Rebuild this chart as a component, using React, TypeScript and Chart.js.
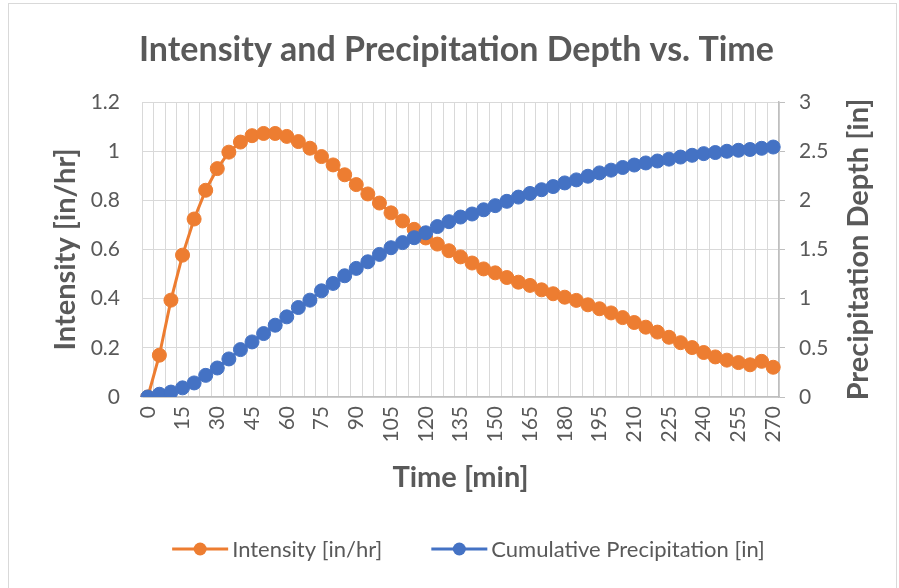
import React, { useEffect, useRef } from "react";
import { Chart, registerables } from "chart.js";

Chart.register(...registerables);

// ---------- data ----------
const times = [
  0, 5, 10, 15, 20, 25, 30, 35, 40, 45, 50, 55, 60, 65, 70, 75, 80, 85, 90, 95,
  100, 105, 110, 115, 120, 125, 130, 135, 140, 145, 150, 155, 160, 165, 170, 175,
  180, 185, 190, 195, 200, 205, 210, 215, 220, 225, 230, 235, 240, 245, 250, 255,
  260, 265, 270,
];

const intensity = [
  0, 0.17, 0.394, 0.577, 0.724, 0.841, 0.929, 0.996, 1.037, 1.063,
  1.072, 1.072, 1.06, 1.039, 1.012, 0.978, 0.944, 0.904, 0.864, 0.826,
  0.789, 0.749, 0.716, 0.682, 0.647, 0.622, 0.595, 0.57, 0.545, 0.521,
  0.505, 0.486, 0.467, 0.454, 0.436, 0.42, 0.406, 0.393, 0.375, 0.359,
  0.342, 0.323, 0.303, 0.284, 0.264, 0.243, 0.221, 0.201, 0.181, 0.163,
  0.15, 0.14, 0.131, 0.145, 0.121,
];

const cumulative = [
  0, 0.028, 0.05, 0.093, 0.143, 0.22, 0.295, 0.387, 0.482, 0.56,
  0.645, 0.73, 0.815, 0.91, 0.985, 1.08, 1.155, 1.233, 1.308, 1.375,
  1.45, 1.518, 1.57, 1.62, 1.67, 1.733, 1.783, 1.83, 1.861, 1.904,
  1.946, 1.99, 2.033, 2.07, 2.108, 2.14, 2.177, 2.208, 2.245, 2.279,
  2.307, 2.334, 2.359, 2.38, 2.4, 2.419, 2.44, 2.458, 2.475, 2.486,
  2.499, 2.509, 2.517, 2.529, 2.542,
];

const leftTickLabels = ["0", "0.2", "0.4", "0.6", "0.8", "1", "1.2"];
const rightTickLabels = ["0", "0.5", "1", "1.5", "2", "2.5", "3"];
const labelEvery = 3;

const TITLE = "Intensity and Precipitation Depth vs. Time";
const X_TITLE = "Time [min]";
const Y_TITLE = "Intensity [in/hr]";
const Y1_TITLE = "Precipitation Depth [in]";
const SERIES_NAMES = ["Intensity [in/hr]", "Cumulative Precipitation [in]"];

const ORANGE = "#ED7D31";
const BLUE = "#4472C4";
const TEXT = "#595959";
const GRID = "#d9d9d9";
const AXIS = "#bfbfbf";
const FONT = "Lato, 'Open Sans', sans-serif";
const AXIS_TITLE_SIZE = 29;
const TICK_SIZE = 21;

const extrasPlugin = {
  id: "extras",
  afterDraw(chart: any) {
    const { ctx, chartArea } = chart;
    ctx.save();
    // chart border
    ctx.strokeStyle = GRID;
    ctx.lineWidth = 1;
    ctx.strokeRect(8.5, 3.5, 888, 700);

    // right axis title (reads bottom-to-top)
    ctx.fillStyle = TEXT;
    ctx.font = `bold ${AXIS_TITLE_SIZE}px ${FONT}`;
    ctx.textAlign = "center";
    ctx.textBaseline = "middle";
    ctx.translate(859, (chartArea.top + chartArea.bottom) / 2);
    ctx.rotate(-Math.PI / 2);
    ctx.fillText(Y1_TITLE, 0, 0);
    ctx.restore();

    // legend
    ctx.save();
    ctx.font = `22px ${FONT}`;
    ctx.textBaseline = "middle";
    ctx.textAlign = "left";
    const colors = [ORANGE, BLUE];
    const lineLen = 56;
    const gapText = 4;
    const gapItem = 49;
    const widths = SERIES_NAMES.map((s) => ctx.measureText(s).width);
    const total =
      widths.reduce((a: number, b: number) => a + b, 0) +
      SERIES_NAMES.length * (lineLen + gapText) +
      gapItem * (SERIES_NAMES.length - 1);
    let x = 468.5 - total / 2;
    const y = 549;
    SERIES_NAMES.forEach((name, i) => {
      ctx.strokeStyle = colors[i];
      ctx.lineWidth = 3;
      ctx.beginPath();
      ctx.moveTo(x, y);
      ctx.lineTo(x + lineLen, y);
      ctx.stroke();
      ctx.fillStyle = colors[i];
      ctx.beginPath();
      ctx.arc(x + lineLen / 2, y, 6.5, 0, Math.PI * 2);
      ctx.fill();
      ctx.fillStyle = TEXT;
      ctx.fillText(name, x + lineLen + gapText, y + 1);
      x += lineLen + gapText + widths[i] + gapItem;
    });
    ctx.restore();
  },
};

export default function App() {
  const canvasRef = useRef<HTMLCanvasElement | null>(null);

  useEffect(() => {
    const canvas = canvasRef.current;
    if (!canvas) return;
    const chart = new Chart(canvas, {
      type: "line",
      data: {
        labels: times.map(String),
        datasets: [
          {
            label: SERIES_NAMES[0],
            data: intensity,
            yAxisID: "y",
            borderColor: ORANGE,
            backgroundColor: ORANGE,
            pointBackgroundColor: ORANGE,
            pointBorderColor: ORANGE,
            borderWidth: 3,
            pointRadius: 7,
            pointBorderWidth: 1,
            tension: 0,
            order: 2,
          },
          {
            label: SERIES_NAMES[1],
            data: cumulative,
            yAxisID: "y1",
            borderColor: BLUE,
            backgroundColor: BLUE,
            pointBackgroundColor: BLUE,
            pointBorderColor: BLUE,
            borderWidth: 3,
            pointRadius: 7,
            pointBorderWidth: 1,
            tension: 0,
            order: 1,
          },
        ],
      },
      options: {
        responsive: false,
        animation: false,
        devicePixelRatio: 1,
        layout: { padding: { left: 14, right: 0, top: 0, bottom: 91 } },
        plugins: {
          legend: { display: false },
          tooltip: { enabled: false },
          title: {
            display: true,
            text: TITLE,
            color: TEXT,
            font: { family: FONT, size: 34, weight: "bold" },
            padding: { top: 29.6, bottom: 31.6 },
          },
        },
        scales: {
          x: {
            type: "category",
            offset: true,
            grid: {
              offset: true,
              color: GRID,
              lineWidth: 1,
              drawTicks: false,
            },
            border: { color: AXIS, width: 1.5 },
            ticks: {
              autoSkip: false,
              minRotation: 90,
              maxRotation: 90,
              padding: 9,
              color: TEXT,
              font: { family: FONT, size: TICK_SIZE },
              callback: (_v: any, i: number) =>
                i % labelEvery === 0 ? String(times[i]) : "",
            },
            title: {
              display: true,
              text: X_TITLE,
              color: TEXT,
              font: { family: FONT, size: AXIS_TITLE_SIZE, weight: "bold" },
              padding: { top: 0, bottom: 1.6 },
            },
            afterFit: (scale: any) => {
              scale.height = 100;
            },
          },
          y: {
            type: "linear",
            position: "left",
            min: 0,
            max: 1.2,
            ticks: {
              stepSize: 0.2,
              padding: 22,
              color: TEXT,
              font: { family: FONT, size: TICK_SIZE },
              callback: (_v: any, i: number) => leftTickLabels[i],
            },
            grid: { color: GRID, lineWidth: 1, drawTicks: false },
            border: { color: GRID, width: 1 },
            title: {
              display: true,
              text: Y_TITLE,
              color: TEXT,
              font: { family: FONT, size: AXIS_TITLE_SIZE, weight: "bold" },
              padding: { top: 34.6, bottom: 0 },
            },
            afterFit: (scale: any) => {
              scale.width = 128;
            },
          },
          y1: {
            type: "linear",
            position: "right",
            min: 0,
            max: 3,
            ticks: {
              stepSize: 0.5,
              padding: 14,
              color: TEXT,
              font: { family: FONT, size: TICK_SIZE },
              callback: (_v: any, i: number) => rightTickLabels[i],
            },
            grid: {
              drawOnChartArea: false,
              drawTicks: true,
              tickLength: 6,
              color: AXIS,
              lineWidth: 1,
            },
            border: { color: AXIS, width: 1.5 },
            title: { display: false },
            afterFit: (scale: any) => {
              scale.width = 120;
            },
          },
        },
      },
      plugins: [extrasPlugin],
    });
    return () => chart.destroy();
  }, []);

  return (
    <div style={{ position: "fixed", left: 0, top: 0, width: 899, height: 588, background: "#fff" }}>
      <canvas ref={canvasRef} width={899} height={588} style={{ display: "block" }} />
    </div>
  );
}
